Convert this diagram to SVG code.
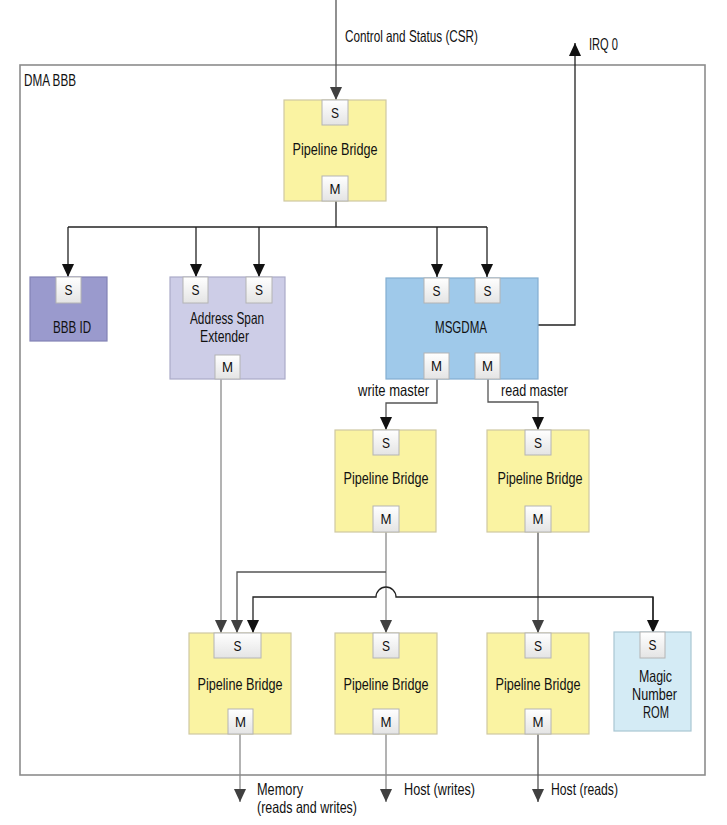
<svg xmlns="http://www.w3.org/2000/svg" width="727" height="825" viewBox="0 0 727 825">
<defs>
<linearGradient id="pg" x1="0" y1="0" x2="0" y2="1">
<stop offset="0" stop-color="#ffffff"/>
<stop offset="1" stop-color="#e4e4e4"/>
</linearGradient>
<marker id="ah" markerUnits="userSpaceOnUse" markerWidth="13" markerHeight="14" refX="14" refY="6.5" orient="auto" viewBox="0 0 14 13">
<path d="M0,0 L14,6.5 L0,13 z" fill="#111"/>
</marker>
<marker id="ahg" markerUnits="userSpaceOnUse" markerWidth="13" markerHeight="14" refX="14" refY="6.5" orient="auto" viewBox="0 0 14 13">
<path d="M0,0 L14,6.5 L0,13 z" fill="#404040"/>
</marker>
<style>
text{font-family:"Liberation Sans Narrow","Liberation Sans",Arial,sans-serif;fill:#111;}
.t{font-size:16.5px;text-anchor:middle;}
.l{font-size:16.5px;}
.p{font-size:15px;text-anchor:middle;}
.port{fill:url(#pg);stroke:#b4b4b4;stroke-width:1;}
.pb{fill:#faf3a2;stroke:#cfc9a2;stroke-width:1.2;}
.c{fill:none;stroke:#222;stroke-width:1.3;}
.cg{fill:none;stroke:#8a8a8a;stroke-width:1.3;}
.cd{fill:none;stroke:#555;stroke-width:1.3;}
</style>
</defs>
<rect width="727" height="825" fill="#ffffff"/>

<g id="frame">
<rect x="20" y="65" width="685" height="710" fill="none" stroke="#8c8c8c" stroke-width="1.6"/>
<text class="l" x="24" y="86" textLength="52" lengthAdjust="spacingAndGlyphs">DMA BBB</text>
</g>

<g id="connectors">
<path class="cd" d="M336,0 V100" marker-end="url(#ahg)"/>
<path class="c" d="M336,201 V227"/>
<path class="c" d="M68,227 H487"/>
<path class="c" d="M68,227 V277" marker-end="url(#ah)"/>
<path class="c" d="M196,227 V277" marker-end="url(#ah)"/>
<path class="c" d="M259,227 V277" marker-end="url(#ah)"/>
<path class="c" d="M437,227 V277" marker-end="url(#ah)"/>
<path class="c" d="M487,227 V277" marker-end="url(#ah)"/>
<path class="c" d="M538,325 H575 V43" marker-end="url(#ah)"/>
<path class="cd" d="M437,379 V403 H386 V430" marker-end="url(#ah)"/>
<path class="cd" d="M488,379 V402 H538 V430" marker-end="url(#ah)"/>
<path class="cg" d="M221,379 V633" marker-end="url(#ahg)"/>
<path class="cg" d="M386,532 V633" marker-end="url(#ahg)"/>
<path class="cd" d="M386,572 H237 V633" marker-end="url(#ahg)"/>
<path class="cd" d="M538,532 V633" marker-end="url(#ahg)"/>
<path class="c" d="M653,633 V597 H396 A10,10 0 0 0 376,597 H253 V633" marker-end="url(#ah)"/>
<path class="c" d="M653,597 V633" marker-end="url(#ah)"/>
<path class="cg" d="M240,734 V802" marker-end="url(#ahg)"/>
<path class="cg" d="M386,734 V802" marker-end="url(#ahg)"/>
<path class="cd" d="M538,734 V802" marker-end="url(#ahg)"/>
<text class="l" x="345" y="42" textLength="133" lengthAdjust="spacingAndGlyphs">Control and Status (CSR)</text>
<text class="l" x="589" y="50" textLength="29" lengthAdjust="spacingAndGlyphs">IRQ 0</text>
<text class="l" x="358" y="396" textLength="71" lengthAdjust="spacingAndGlyphs">write master</text>
<text class="l" x="501" y="396" textLength="67" lengthAdjust="spacingAndGlyphs">read master</text>
<text class="l" x="257" y="795" textLength="46" lengthAdjust="spacingAndGlyphs">Memory</text>
<text class="l" x="257" y="813" textLength="100" lengthAdjust="spacingAndGlyphs">(reads and writes)</text>
<text class="l" x="404" y="795" textLength="71" lengthAdjust="spacingAndGlyphs">Host (writes)</text>
<text class="l" x="551" y="795" textLength="67" lengthAdjust="spacingAndGlyphs">Host (reads)</text>
</g>

<g id="pb-top">
<rect class="pb" x="284" y="100" width="102" height="101"/>
<rect class="port" x="322" y="100" width="26" height="25"/>
<text class="p" x="335" y="118" textLength="8" lengthAdjust="spacingAndGlyphs">S</text>
<rect class="port" x="322" y="176" width="26" height="25"/>
<text class="p" x="335" y="194" textLength="11" lengthAdjust="spacingAndGlyphs">M</text>
<text class="t" x="335" y="155" textLength="85" lengthAdjust="spacingAndGlyphs">Pipeline Bridge</text>
</g>

<g id="bbb-id">
<rect x="30" y="277" width="77" height="64" fill="#9a9acd" stroke="#8383b5" stroke-width="1.2"/>
<rect class="port" x="56" y="277" width="25" height="26"/>
<text class="p" x="68.5" y="295" textLength="8" lengthAdjust="spacingAndGlyphs">S</text>
<text class="t" x="72" y="333" textLength="38" lengthAdjust="spacingAndGlyphs">BBB ID</text>
</g>

<g id="ase">
<rect x="170" y="277" width="115" height="102" fill="#cdcde7" stroke="#ababc9" stroke-width="1.2"/>
<rect class="port" x="183" y="277" width="25" height="26"/>
<text class="p" x="195.5" y="295" textLength="8" lengthAdjust="spacingAndGlyphs">S</text>
<rect class="port" x="246" y="277" width="26" height="26"/>
<text class="p" x="259" y="295" textLength="8" lengthAdjust="spacingAndGlyphs">S</text>
<rect class="port" x="215" y="355" width="25" height="24"/>
<text class="p" x="227.5" y="372" textLength="11" lengthAdjust="spacingAndGlyphs">M</text>
<text class="t" x="227" y="324" textLength="74" lengthAdjust="spacingAndGlyphs">Address Span</text>
<text class="t" x="224.5" y="342" textLength="49" lengthAdjust="spacingAndGlyphs">Extender</text>
</g>

<g id="msgdma">
<rect x="386" y="278" width="152" height="101" fill="#9fc9ea" stroke="#84aed0" stroke-width="1.2"/>
<rect class="port" x="424" y="278" width="25" height="25"/>
<text class="p" x="436.5" y="296" textLength="8" lengthAdjust="spacingAndGlyphs">S</text>
<rect class="port" x="475" y="278" width="25" height="25"/>
<text class="p" x="487.5" y="296" textLength="8" lengthAdjust="spacingAndGlyphs">S</text>
<rect class="port" x="424" y="353" width="25" height="26"/>
<text class="p" x="436.5" y="371" textLength="11" lengthAdjust="spacingAndGlyphs">M</text>
<rect class="port" x="475" y="353" width="25" height="26"/>
<text class="p" x="487.5" y="371" textLength="11" lengthAdjust="spacingAndGlyphs">M</text>
<text class="t" x="461" y="333" textLength="52" lengthAdjust="spacingAndGlyphs">MSGDMA</text>
</g>

<g id="pb-write">
<rect class="pb" x="335" y="430" width="101" height="102"/>
<rect class="port" x="373" y="430" width="26" height="25"/>
<text class="p" x="386" y="448" textLength="8" lengthAdjust="spacingAndGlyphs">S</text>
<rect class="port" x="373" y="506" width="26" height="26"/>
<text class="p" x="386" y="524" textLength="11" lengthAdjust="spacingAndGlyphs">M</text>
<text class="t" x="386" y="484" textLength="85" lengthAdjust="spacingAndGlyphs">Pipeline Bridge</text>
</g>

<g id="pb-read">
<rect class="pb" x="487" y="430" width="102" height="102"/>
<rect class="port" x="525" y="430" width="26" height="25"/>
<text class="p" x="538" y="448" textLength="8" lengthAdjust="spacingAndGlyphs">S</text>
<rect class="port" x="525" y="506" width="26" height="26"/>
<text class="p" x="538" y="524" textLength="11" lengthAdjust="spacingAndGlyphs">M</text>
<text class="t" x="540" y="484" textLength="85" lengthAdjust="spacingAndGlyphs">Pipeline Bridge</text>
</g>

<g id="pb-mem">
<rect class="pb" x="189" y="633" width="102" height="101"/>
<rect class="port" x="214" y="633" width="47" height="25"/>
<text class="p" x="237.5" y="651" textLength="8" lengthAdjust="spacingAndGlyphs">S</text>
<rect class="port" x="228" y="709" width="25" height="25"/>
<text class="p" x="240.5" y="727" textLength="11" lengthAdjust="spacingAndGlyphs">M</text>
<text class="t" x="240" y="690" textLength="85" lengthAdjust="spacingAndGlyphs">Pipeline Bridge</text>
</g>

<g id="pb-hostw">
<rect class="pb" x="335" y="633" width="102" height="101"/>
<rect class="port" x="373" y="633" width="26" height="25"/>
<text class="p" x="386" y="651" textLength="8" lengthAdjust="spacingAndGlyphs">S</text>
<rect class="port" x="373" y="709" width="26" height="25"/>
<text class="p" x="386" y="727" textLength="11" lengthAdjust="spacingAndGlyphs">M</text>
<text class="t" x="386" y="690" textLength="85" lengthAdjust="spacingAndGlyphs">Pipeline Bridge</text>
</g>

<g id="pb-hostr">
<rect class="pb" x="487" y="633" width="102" height="101"/>
<rect class="port" x="525" y="633" width="26" height="25"/>
<text class="p" x="538" y="651" textLength="8" lengthAdjust="spacingAndGlyphs">S</text>
<rect class="port" x="525" y="709" width="26" height="25"/>
<text class="p" x="538" y="727" textLength="11" lengthAdjust="spacingAndGlyphs">M</text>
<text class="t" x="538" y="690" textLength="85" lengthAdjust="spacingAndGlyphs">Pipeline Bridge</text>
</g>

<g id="magic-rom">
<rect x="614" y="632" width="77" height="99" fill="#d4ebf5" stroke="#a9c6d3" stroke-width="1.2"/>
<rect class="port" x="640" y="632" width="25" height="26"/>
<text class="p" x="652.5" y="650" textLength="8" lengthAdjust="spacingAndGlyphs">S</text>
<text class="t" x="655.5" y="682" textLength="33" lengthAdjust="spacingAndGlyphs">Magic</text>
<text class="t" x="654.5" y="700" textLength="45" lengthAdjust="spacingAndGlyphs">Number</text>
<text class="t" x="656" y="718" textLength="26" lengthAdjust="spacingAndGlyphs">ROM</text>
</g>
</svg>
